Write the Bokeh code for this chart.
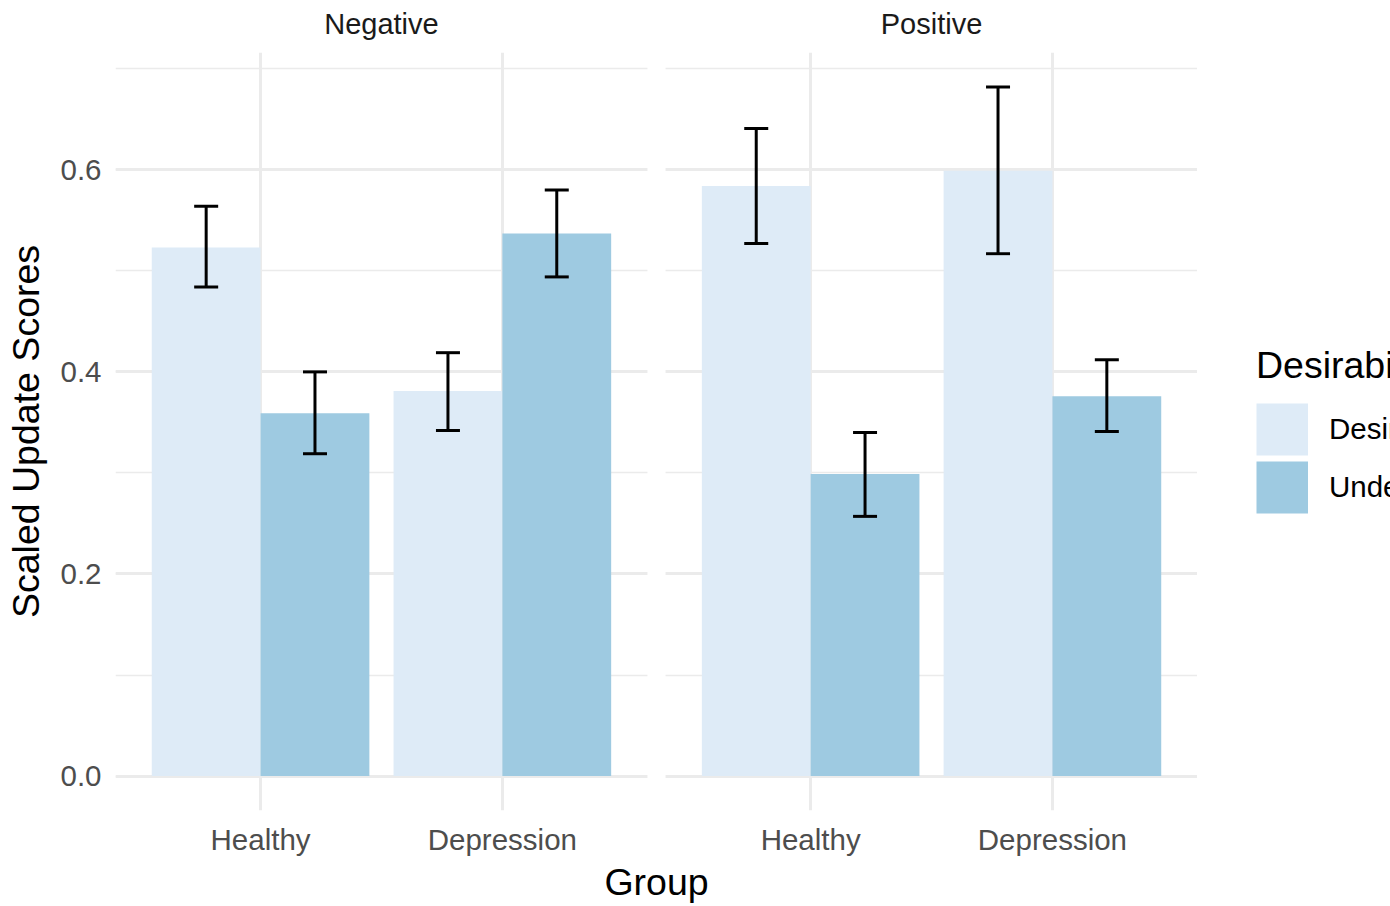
from bokeh.plotting import figure
from bokeh.layouts import row
from bokeh.models import (ColumnDataSource, FactorRange, Range1d, Whisker, TeeHead,
                          CategoricalAxis, SingleIntervalTicker, PrintfTickFormatter,
                          Legend, LegendItem)
from bokeh.transform import dodge
from bokeh.embed import file_html
from bokeh.resources import INLINE

# ---- data -------------------------------------------------------------
panels = ["Negative"] * 4 + ["Positive"] * 4
groups = ["Healthy", "Healthy", "Depression", "Depression"] * 2
desirability = ["Desirable", "Undesirable"] * 4
scores = [0.523, 0.359, 0.381, 0.537, 0.584, 0.299, 0.599, 0.376]
lower = [0.484, 0.319, 0.342, 0.494, 0.527, 0.257, 0.517, 0.341]
upper = [0.564, 0.400, 0.419, 0.580, 0.641, 0.340, 0.682, 0.412]

panel_levels = ["Negative", "Positive"]
group_levels = ["Healthy", "Depression"]
desir_levels = ["Desirable", "Undesirable"]
desir_colors = ["#DEEBF7", "#9ECAE1"]

# ---- layout constants (category units) -------------------------------
FONT = "Liberation Sans"
DODGE = 0.9          # total width of a dodged pair of bars
EXPAND = 0.6         # space from outer category centre to panel edge
PANEL_GAP = 0.075    # blank space between the two facets
group_pad = 2 * EXPAND + PANEL_GAP - 1

factors = [(pn, g) for pn in panel_levels for g in group_levels]
x_range = FactorRange(
    factors=factors, factor_padding=0, group_padding=group_pad,
    range_padding=2 * (EXPAND - 0.5) / (len(factors) + group_pad),
    range_padding_units="percent")

# facet strip range: one factor per panel, centred over its panel
strip_pad = 1 + group_pad
strip_range = FactorRange(
    factors=panel_levels, factor_padding=strip_pad,
    range_padding=2 * EXPAND / (len(panel_levels) + strip_pad),
    range_padding_units="percent")

y_hi = max(upper)
y_pad = 0.05 * y_hi
y_range = Range1d(-y_pad, y_hi + y_pad)

p = figure(x_range=x_range, y_range=y_range,
           frame_width=1082, frame_height=758,
           min_border_left=115, min_border_right=0,
           min_border_top=52, min_border_bottom=96,
           output_backend="svg", toolbar_location=None,
           background_fill_color="white", border_fill_color="white",
           outline_line_color=None)
p.extra_x_ranges = {"strips": strip_range}

# white band separating the facets (hides the shared grid lines)
gap_src = ColumnDataSource(dict(a=[factors[1]], b=[factors[2]]))
p.quad(left=dodge("a", EXPAND, range=x_range), right=dodge("b", -EXPAND, range=x_range),
       bottom=y_range.start, top=y_range.end, source=gap_src,
       fill_color="white", line_color=None)

# ---- bars + error bars ------------------------------------------------
for k, (lev, col) in enumerate(zip(desir_levels, desir_colors)):
    idx = [i for i, d in enumerate(desirability) if d == lev]
    src = ColumnDataSource(dict(
        x=[(panels[i], groups[i]) for i in idx],
        top=[scores[i] for i in idx],
        lower=[lower[i] for i in idx],
        upper=[upper[i] for i in idx]))
    offset = (k - 0.5) * DODGE / 2
    p.vbar(x=dodge("x", offset, range=x_range), top="top", bottom=0,
           width=DODGE / 2, source=src, fill_color=col, line_color=None)
    whisk = Whisker(base=dodge("x", offset, range=x_range), upper="upper", lower="lower",
                    source=src, line_color="black", line_width=3, level="overlay",
                    upper_head=TeeHead(size=24, line_color="black", line_width=3),
                    lower_head=TeeHead(size=24, line_color="black", line_width=3))
    p.add_layout(whisk)

# ---- axes -------------------------------------------------------------
ticker = SingleIntervalTicker(interval=0.2, num_minor_ticks=2)
yax = p.yaxis[0]
yax.ticker = ticker
yax.formatter = PrintfTickFormatter(format="%.1f")
yax.axis_label = "Scaled Update Scores"
yax.axis_label_standoff = 10
yax.major_label_standoff = 14

xax = p.xaxis[0]
xax.axis_label = "Group"
xax.axis_label_standoff = 2
xax.major_label_standoff = 12
xax.group_text_font_size = "1px"
xax.group_text_color = None
xax.separator_line_color = None

strips = CategoricalAxis(x_range_name="strips")
strips.major_label_text_font_size = "29px"
strips.major_label_text_color = "#1A1A1A"
strips.major_label_standoff = 13
p.add_layout(strips, "above")

for ax in (xax, yax, strips):
    ax.axis_line_color = None
    ax.major_tick_in = 0
    ax.major_tick_out = 0
    ax.minor_tick_in = 0
    ax.minor_tick_out = 0
    ax.major_label_text_font = FONT
    ax.axis_label_text_font = FONT
    ax.axis_label_text_font_style = "normal"
    ax.axis_label_text_font_size = "37.5px"
    ax.axis_label_text_color = "black"
for ax in (xax, yax):
    ax.major_label_text_font_size = "29.5px"
    ax.major_label_text_color = "#4D4D4D"

# ---- grid -------------------------------------------------------------
p.xgrid.grid_line_color = "#EBEBEB"
p.xgrid.grid_line_width = 3
p.ygrid.ticker = ticker
p.ygrid.grid_line_color = "#EBEBEB"
p.ygrid.grid_line_width = 3
p.ygrid.minor_grid_line_color = "#EBEBEB"
p.ygrid.minor_grid_line_width = 1.7

# ---- legend panel -----------------------------------------------------
lg = figure(width=193, height=906, min_border=0,
            x_range=Range1d(0, 1), y_range=Range1d(0, 1),
            x_axis_location=None, y_axis_location=None,
            output_backend="svg", toolbar_location=None,
            background_fill_color="white", border_fill_color="white",
            outline_line_color=None)
lg.xgrid.visible = False
lg.ygrid.visible = False

# key swatches: a thick butt-capped stroke fills the whole key box
KEY = 52
legend_items = []
for lev, col in zip(desir_levels, desir_colors):
    key = lg.line(x=[-3, -2], y=[-3, -2], line_width=KEY, line_color=col,
                  line_cap="butt")
    legend_items.append(LegendItem(label=lev, renderers=[key]))

legend = Legend(items=legend_items, location=(59, 294),
                title="Desirability", title_text_font=FONT,
                title_text_font_size="37.5px", title_text_font_style="normal",
                title_text_color="black", title_standoff=13,
                label_text_font=FONT, label_text_font_size="29.5px",
                label_text_color="black", label_standoff=21,
                glyph_width=KEY, glyph_height=58, spacing=0,
                padding=0, margin=0, border_line_color=None,
                background_fill_alpha=0)
lg.add_layout(legend)

layout = row(p, lg, spacing=0)
open("out.html", "w").write(file_html(layout, INLINE))
